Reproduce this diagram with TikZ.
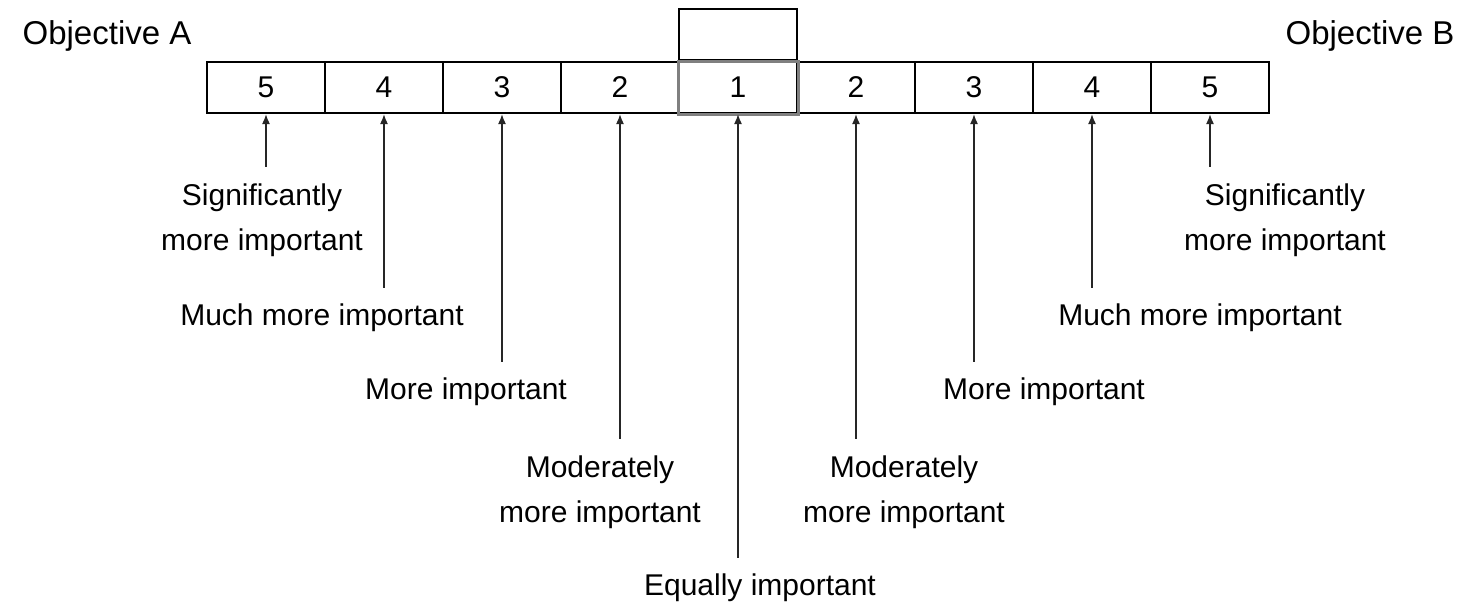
\documentclass[tikz,border=0pt]{standalone}
\usepackage{fontspec}
\setmainfont{Liberation Sans}
\usetikzlibrary{arrows.meta,positioning}

\begin{document}
\begin{tikzpicture}[
    x=0.5pt, y=-0.5pt,
    >={Latex[length=5pt,width=4pt]},
    every node/.style={font=\fontsize{15}{22.5}\selectfont},
    cell/.style    = {draw, line width=1pt, minimum width=59pt, minimum height=25.5pt, inner sep=0pt},
    lbl/.style     = {align=center, inner sep=2pt},
    obj/.style     = {font=\fontsize{16.5}{20}\selectfont},
    pointer/.style = {<-, line width=0.8pt, black!85, shorten >=6pt},
  ]
% picture frame
\useasboundingbox (0,0) rectangle (1473,607);

% objectives
\node[obj] (objA) at (107,36) {Objective A};
\node[obj] (objB) at (1370,36) {Objective B};

% scale cells
\foreach \v [count=\i from 0] in {5,4,3,2,1,2,3,4,5}
    \node[cell] (c\i) at (266+118*\i,87.5) {\v};

% empty box above the middle
\node[cell, anchor=south] (blank) at (c4.north) {};
\draw[black!50, line width=1.5pt] (c4.south west) rectangle (c4.north east);

% labels
\node[lbl] (sigA)  at (262,220)  {Significantly\\more important};
\node[lbl] (muchA) at (322,318)  {Much more important};
\node[lbl] (moreA) at (466,392)  {More important};
\node[lbl] (modA)  at (600,492)  {Moderately\\more important};
\node[lbl] (equal) at (760,588)  {Equally important};
\node[lbl] (modB)  at (904,492)  {Moderately\\more important};
\node[lbl] (moreB) at (1044,392) {More important};
\node[lbl] (muchB) at (1200,318) {Much more important};
\node[lbl] (sigB)  at (1285,220) {Significantly\\more important};

% pointers
\foreach \c/\l in {c0/sigA,c1/muchA,c2/moreA,c3/modA,c4/equal,c5/modB,c6/moreB,c7/muchB,c8/sigB}
    \draw[pointer] (\c.south) -- (\c.south |- \l.north);

\end{tikzpicture}
\end{document}
